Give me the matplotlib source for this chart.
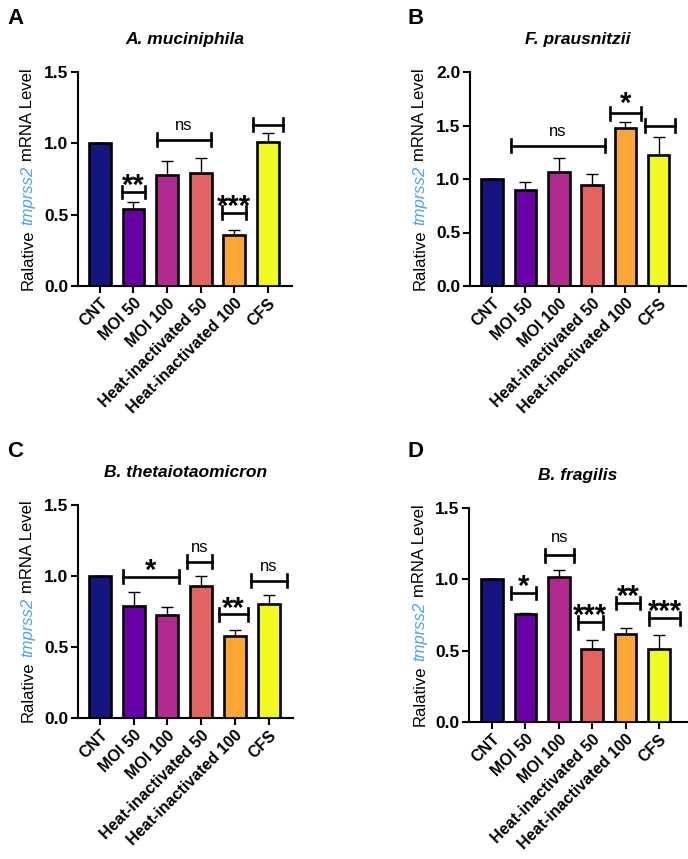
import matplotlib
matplotlib.use("Agg")
import matplotlib.pyplot as plt
import numpy as np

plt.rcParams['font.family'] = ['Liberation Sans', 'DejaVu Sans']

categories = ["CNT", "MOI 50", "MOI 100", "Heat-inactivated 50", "Heat-inactivated 100", "CFS"]
colors = ["#15157f", "#6a00a8", "#b12a90", "#e16462", "#fca636", "#f0f921"]

titles = ["A. muciniphila", "F. prausnitzii", "B. thetaiotaomicron", "B. fragilis"]
letters = ["A", "B", "C", "D"]

means_A = [1.00, 0.54, 0.78, 0.79, 0.36, 1.01]
upper_A = [1.00, 0.59, 0.875, 0.90, 0.39, 1.075]
means_B = [1.00, 0.90, 1.07, 0.94, 1.48, 1.22]
upper_B = [1.00, 0.97, 1.195, 1.05, 1.535, 1.39]
means_C = [1.00, 0.79, 0.725, 0.93, 0.575, 0.805]
upper_C = [1.00, 0.885, 0.785, 1.00, 0.62, 0.865]
means_D = [1.00, 0.755, 1.015, 0.51, 0.615, 0.515]
upper_D = [1.00, 0.762, 1.065, 0.578, 0.656, 0.607]

ylims = [1.5, 2.0, 1.5, 1.5]
yticks = [[0.0, 0.5, 1.0, 1.5], [0.0, 0.5, 1.0, 1.5, 2.0], [0.0, 0.5, 1.0, 1.5], [0.0, 0.5, 1.0, 1.5]]

# brackets: (x_start, x_end, y, label, label_y)
brackets_A = [(0.65, 1.35, 0.659, "**", 0.745), (1.7, 3.3, 1.026, "ns", 1.125),
              (3.65, 4.35, 0.514, "***", 0.60), (4.55, 5.45, 1.131, "", 0)]
brackets_B = [(0.57, 3.4, 1.3125, "ns", 1.44), (3.53, 4.47, 1.616, "*", 1.76),
              (4.6, 5.48, 1.497, "", 0)]
brackets_C = [(0.67, 2.34, 0.996, "*", 1.08), (2.57, 3.32, 1.10, "ns", 1.20),
              (3.53, 4.38, 0.731, "**", 0.81), (4.48, 5.53, 0.968, "ns", 1.067)]
brackets_D = [(0.56, 1.31, 0.904, "*", 0.99), (1.59, 2.46, 1.168, "ns", 1.29),
              (2.57, 3.32, 0.699, "***", 0.785), (3.70, 4.43, 0.834, "**", 0.92),
              (4.70, 5.63, 0.727, "***", 0.815)]

means_all = [means_A, means_B, means_C, means_D]
upper_all = [upper_A, upper_B, upper_C, upper_D]
brackets_all = [brackets_A, brackets_B, brackets_C, brackets_D]

W, H = 688, 859
fig = plt.figure(figsize=(W / 100, H / 100), dpi=100)

# axes pixel boxes: left, top, right, bottom
boxes = [(78, 72, 292, 286), (470, 72, 686, 286), (78, 505, 293, 718), (469, 508, 687, 722)]
xlims = [(-0.65, 5.72), (-0.66, 5.82), (-0.65, 5.72), (-0.69, 5.84)]
letter_pos = [(7, 24), (407, 24), (7, 457), (407, 457)]

axes = []
for i, (l, t, r, b) in enumerate(boxes):
    ax = fig.add_axes([l / W, 1 - b / H, (r - l) / W, (b - t) / H])
    axes.append(ax)
    x = np.arange(len(categories))
    m = np.array(means_all[i])
    u = np.array(upper_all[i])
    ax.bar(x, m, width=0.65, color=colors, edgecolor="black", linewidth=1.9, zorder=3)
    err = np.clip(u - m, 0, None)
    ax.errorbar(x, m, yerr=[np.zeros_like(err), err], fmt="none", ecolor="black",
                elinewidth=1.0, capsize=4, capthick=1.0, zorder=2)
    ax.set_xlim(*xlims[i])
    ax.set_ylim(0, ylims[i])
    ax.set_yticks(yticks[i])
    ax.set_yticklabels([f"{v:.1f}" for v in yticks[i]], fontsize=12.5, fontweight="bold")
    ax.set_xticks(x)
    ax.set_xticklabels(categories, rotation=45, ha="right", rotation_mode="anchor",
                       fontsize=11.5, fontweight="bold")
    for s in ["top", "right"]:
        ax.spines[s].set_visible(False)
    for s in ["left", "bottom"]:
        ax.spines[s].set_linewidth(1.5)
    ax.tick_params(axis="both", direction="out", length=5, width=1.5, pad=2)
    ax.set_title(titles[i], fontsize=12.5, fontweight="bold", fontstyle="italic", pad=20)
    # brackets
    th = 0.045 * ylims[i] / 1.5
    for (x0, x1, yb, lab, ly) in brackets_all[i]:
        ax.plot([x0, x1], [yb, yb], color="black", lw=1.9, clip_on=False, zorder=4)
        for xe in (x0, x1):
            ax.plot([xe, xe], [yb - th, yb + th], color="black", lw=1.9, clip_on=False, zorder=4)
        if lab:
            if lab == "ns":
                ax.text((x0 + x1) / 2, ly, lab, ha="center", va="center", fontsize=12, zorder=5)
            else:
                ax.text((x0 + x1) / 2, ly - 0.045 * ylims[i] / 1.5, lab, ha="center", va="center",
                        fontsize=21, fontweight="bold", zorder=5)
    lx, ly_ = letter_pos[i]
    fig.text(lx / W, 1 - ly_ / H, letters[i], fontsize=16, fontweight="bold", ha="left", va="baseline")

# multi-style y labels
fig.canvas.draw()
renderer = fig.canvas.get_renderer()
pieces = [("Ralative", "normal", "black"), ("tmprss2", "italic", "#4da3ef"), ("mRNA Level", "normal", "black")]
fs_lab = 12
def measure(s, style):
    t = fig.text(0, 0, s, fontsize=fs_lab, fontstyle=style)
    w = t.get_window_extent(renderer).width
    t.remove()
    return w
space = measure("a a", "normal") - measure("aa", "normal")
widths = [measure(p[0], p[1]) for p in pieces]
total = sum(widths) + space * (len(pieces) - 1)
label_x = [28, 420, 28, 420]
for i, (l, t, r, b) in enumerate(boxes):
    cy = (t + b) / 2
    ypix = cy + total / 2  # bottom of text in image coords (from top)
    for (s, style, col), w in zip(pieces, widths):
        fig.text(label_x[i] / W, 1 - ypix / H, s, fontsize=fs_lab, fontstyle=style, color=col,
                 rotation=90, ha="center", va="bottom")
        ypix -= w + space

fig.savefig("out.png", dpi=100)
